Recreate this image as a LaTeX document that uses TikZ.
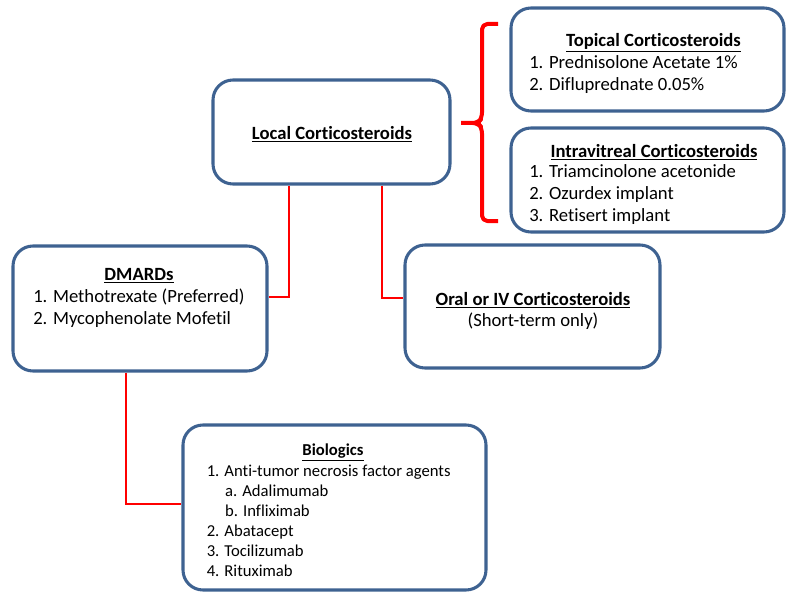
\documentclass[tikz,border=0pt]{standalone}
\usepackage{fontspec}
\setmainfont[Ligatures=NoCommon]{Carlito}
\newlength\pxu
\setlength\pxu{0.75pt}
\definecolor{boxblue}{RGB}{62,98,145}
\tikzset{
  stage/.style={draw=boxblue, line width=2.3pt, rounded corners=15pt, fill=white, inner sep=0pt},
  link/.style={draw=red, line width=1.1pt},
  head/.style={font=\fontsize{14}{16.5}\selectfont\bfseries},
  items/.style={anchor=north west, align=left, inner sep=0pt, font=\fontsize{14}{16.5}\selectfont}
}

\begin{document}
\begin{tikzpicture}[x=0.75pt, y=-0.75pt]
  \useasboundingbox (0,0) rectangle (786,592);

  % Boxes
  \node[stage, minimum width=237\pxu, minimum height=104\pxu] (local) at (331.5,132) {};
  \node[stage, minimum width=273\pxu, minimum height=103\pxu] (topical) at (647.5,59.5) {};
  \node[stage, minimum width=273\pxu, minimum height=104\pxu] (intra) at (647.5,180) {};
  \node[stage, minimum width=254\pxu, minimum height=125\pxu] (dmards) at (140,308.5) {};
  \node[stage, minimum width=255\pxu, minimum height=123\pxu] (oral) at (532.5,306.5) {};
  \node[stage, minimum width=303\pxu, minimum height=165\pxu] (bio) at (334.5,507.5) {};

  % Texts
  \node[head] (localtitle) at (332,134.5) {\underline{Local Corticosteroids}};

  \node[head] (toptitle) at (653.5,42.5) {\underline{Topical Corticosteroids}};
  \node[items] (toplist) at (529,55.5) {1. Prednisolone Acetate 1\%\\2. Difluprednate 0.05\%};

  \node[head] (intratitle) at (654,152.5) {\underline{Intravitreal Corticosteroids}};
  \node[items] (intralist) at (529,164.5) {1. Triamcinolone acetonide\\2. Ozurdex implant\\3. Retisert implant};

  \node[head] (dmardstitle) at (139,275.5) {\underline{DMARDs}};
  \node[items] (dmardslist) at (33,288.5) {1. Methotrexate (Preferred)\\2. Mycophenolate Mofetil};

  \node[head] (oraltitle) at (533,300.5) {\underline{Oral or IV Corticosteroids}};
  \node[items, anchor=center] (oralnote) at (533,321.5) {(Short-term only)};

  \node[head, font=\fontsize{12.5}{15}\selectfont\bfseries] (biotitle) at (333,452.5) {\underline{Biologics}};
  \node[items, font=\fontsize{12.5}{15}\selectfont] (biolist) at (206.5,464.5)
    {1. Anti-tumor necrosis factor agents\\
     \hspace*{1.1em}a. Adalimumab\\
     \hspace*{1.1em}b. Infliximab\\
     2. Abatacept\\
     3. Tocilizumab\\
     4. Rituximab};

  % Connectors
  \draw[link] ([xshift=-42.5\pxu]local.south) |- ([yshift=11.5\pxu]dmards.east);
  \draw[link] ([xshift=50.5\pxu]local.south) |- ([yshift=8.5\pxu]oral.west);
  \draw[link] ([xshift=-14\pxu]dmards.south) |- ([yshift=3.5\pxu]bio.west);

  % Brace
  \draw[red, line width=3pt, line join=round, rounded corners=4pt]
    (498,24) -- (482,24) -- (482,118) -- (478,123) -- (461,123)
    (461,123) -- (478,123) -- (482,128) -- (482,221) -- (498,221);
\end{tikzpicture}
\end{document}
